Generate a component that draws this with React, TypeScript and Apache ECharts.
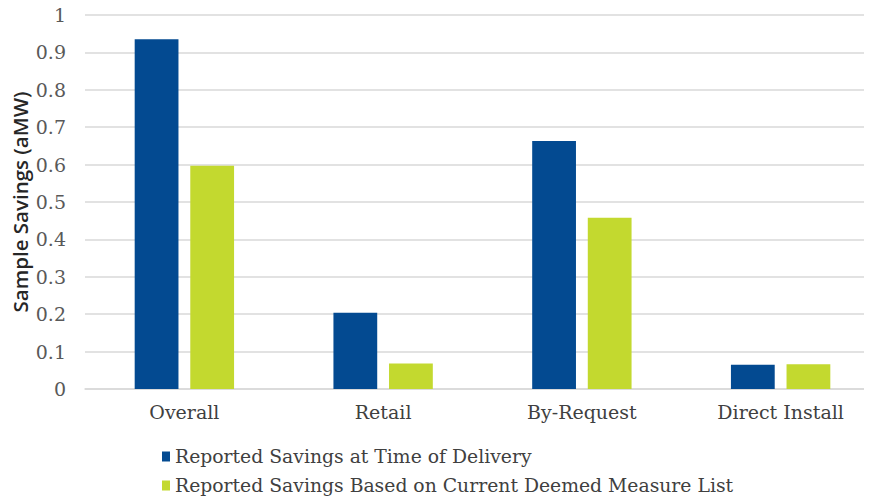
import React, { useEffect, useRef } from "react";
import * as echarts from "echarts";

const categories = ["Overall", "Retail", "By-Request", "Direct Install"];
const seriesNames = [
  "Reported Savings at Time of Delivery",
  "Reported Savings Based on Current Deemed Measure List",
];
const deliveryValues = [0.935, 0.204, 0.663, 0.065];
const deemedValues = [0.597, 0.068, 0.458, 0.066];
const yTicks = { min: 0, max: 1, interval: 0.1 };
const yTitle = "Sample Savings (aMW)";

const FONT = "DejaVu Serif";

export default function App() {
  const ref = useRef<HTMLDivElement>(null);
  useEffect(() => {
    if (!ref.current) return;
    const chart = echarts.init(ref.current, undefined, { renderer: "svg" });
    chart.setOption({
      animation: false,
      grid: {
        left: 85,
        right: -8,
        top: 15,
        bottom: 115,
        containLabel: false,
        outerBoundsMode: "none",
      },
      legend: {
        orient: "vertical",
        left: 157,
        top: 442,
        itemWidth: 8,
        itemHeight: 10,
        itemGap: 10,
        icon: "rect",
        data: seriesNames,
        textStyle: {
          fontFamily: FONT,
          fontSize: 18.8,
          color: "#404040",
          lineHeight: 19,
        },
      },
      xAxis: {
        type: "category",
        data: categories,
        axisLine: { lineStyle: { color: "#d9d9d9", width: 1.5 } },
        axisTick: { show: false },
        axisLabel: {
          fontFamily: FONT,
          fontSize: 19,
          color: "#404040",
          margin: 13,
        },
      },
      yAxis: {
        type: "value",
        min: yTicks.min,
        max: yTicks.max,
        interval: yTicks.interval,
        name: yTitle,
        nameLocation: "middle",
        nameGap: 55,
        nameMoveOverlap: false,
        nameTextStyle: {
          fontFamily: "Open Sans",
          fontSize: 20.5,
          fontWeight: 600,
          color: "#262626",
        },
        axisLine: { show: false },
        axisTick: { show: false },
        splitLine: { lineStyle: { color: "#d9d9d9", width: 1.5 } },
        axisLabel: {
          fontFamily: FONT,
          fontSize: 19,
          color: "#595959",
          margin: 19,
          formatter: (v: number) => String(Math.round(v * 10) / 10),
        },
      },
      series: [
        {
          name: seriesNames[0],
          type: "bar",
          data: deliveryValues,
          barGap: "27%",
          barCategoryGap: "50%",
          itemStyle: { color: "#034a91" },
        },
        {
          name: seriesNames[1],
          type: "bar",
          data: deemedValues,
          itemStyle: { color: "#c3d92f" },
        },
      ],
    });
    return () => chart.dispose();
  }, []);
  return <div ref={ref} style={{ width: 872, height: 504, margin: -8 }} />;
}
